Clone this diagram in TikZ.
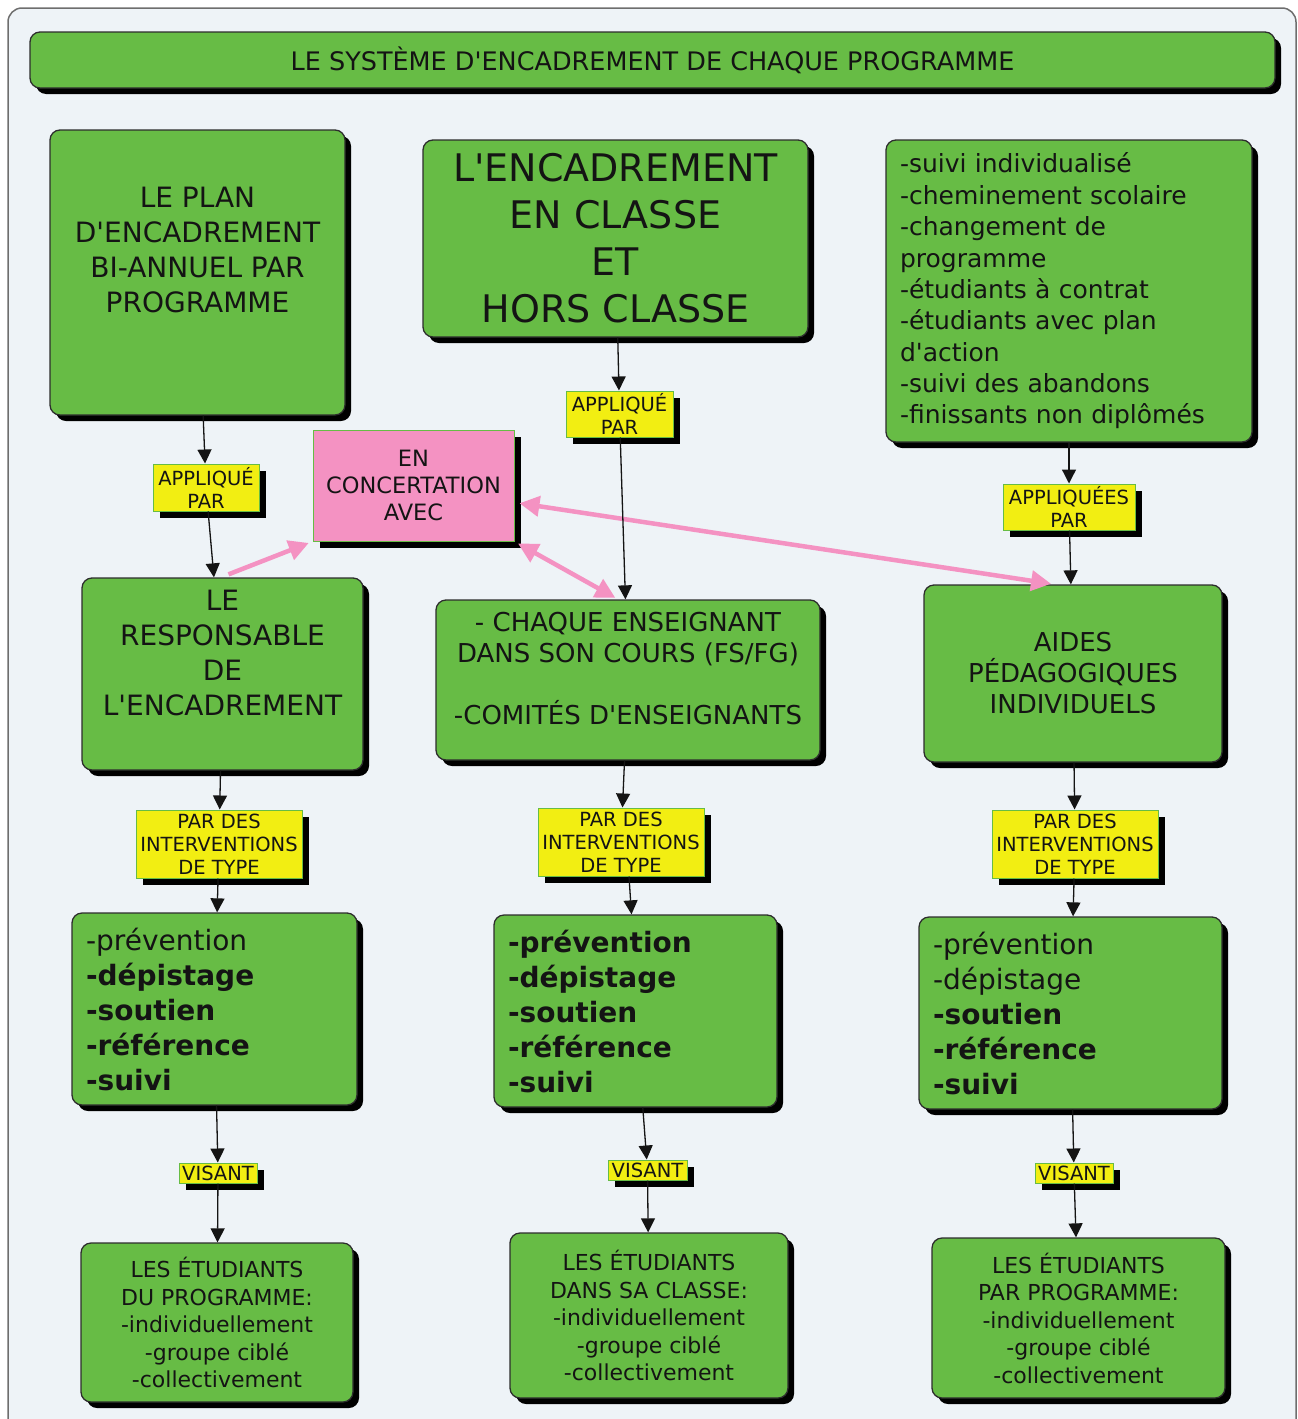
\documentclass[tikz,border=0pt]{standalone}
\usepackage{fontspec}
\setmainfont{DejaVu Sans}[Ligatures=TeXOff]
\usetikzlibrary{arrows.meta,shadows}
\definecolor{paneBlue}{RGB}{238,243,247}
\definecolor{frameGray}{RGB}{110,110,110}
\definecolor{mapGreen}{RGB}{103,188,69}
\definecolor{boxEdge}{RGB}{45,45,45}
\definecolor{tagYellow}{RGB}{242,238,18}
\definecolor{linkPink}{RGB}{244,146,194}
\definecolor{inkBlack}{RGB}{20,20,20}
\tikzset{
  greenbox/.style={draw=boxEdge, line width=1.3pt, rounded corners=10pt, fill=mapGreen, text=inkBlack, align=center, inner sep=0pt, drop shadow={shadow xshift=6pt, shadow yshift=-6pt, fill=black, opacity=1}},
  listbox/.style={greenbox, align=left, inner xsep=14pt},
  tag/.style={draw=mapGreen, line width=1pt, fill=tagYellow, text=inkBlack, align=center, inner sep=0pt, font=\fontsize{19.5}{23}\selectfont, drop shadow={shadow xshift=7pt, shadow yshift=-7pt, fill=black, opacity=1}},
  concertbox/.style={draw=mapGreen, line width=1pt, fill=linkPink, text=inkBlack, align=center, inner sep=0pt, font=\fontsize{22.5}{27}\selectfont, drop shadow={shadow xshift=7pt, shadow yshift=-7pt, fill=black, opacity=1}},
  arrow/.style={-{Triangle[length=14pt,width=14pt]}, line width=1.3pt, draw=inkBlack},
  pinkarrow/.style={-{Triangle[length=20pt,width=20pt]}, line width=4.5pt, draw=linkPink},
  pinkboth/.style={{Triangle[length=20pt,width=20pt]}-{Triangle[length=20pt,width=20pt]}, line width=4.5pt, draw=linkPink},
  titlefont/.style={font=\fontsize{25.5}{30}\selectfont},
  headfont/.style={font=\fontsize{28}{35}\selectfont, text=inkBlack, align=center, inner sep=0pt},
  bigfont/.style={font=\fontsize{38}{47}\selectfont},
  listfont/.style={font=\fontsize{25}{31.4}\selectfont},
  midfont/.style={font=\fontsize{26}{31}\selectfont, text=inkBlack, align=center, inner sep=0pt},
  typefont/.style={font=\fontsize{28}{35}\selectfont},
  pupilfont/.style={font=\fontsize{22}{27.5}\selectfont}
}
\begin{document}
\begin{tikzpicture}[x=1pt,y=-1pt]
  \useasboundingbox (0,0) rectangle (1298,1419);
  % background pane
  \draw[draw=frameGray, line width=1.5pt, fill=paneBlue, rounded corners=14pt] (8,8) rectangle (1296,1440);

  \node[greenbox, titlefont, minimum width=1245pt, minimum height=56pt] (title) at (652.5,60) {LE SYSTÈME D'ENCADREMENT DE CHAQUE PROGRAMME};

  % top row
  \node[greenbox, minimum width=295pt, minimum height=285pt] (plan) at (197.5,272.5) {};
  \node[headfont, anchor=north] (plantext) at ([yshift=-58pt]plan.north) {LE PLAN\\D'ENCADREMENT\\BI-ANNUEL PAR\\PROGRAMME};
  \node[greenbox, bigfont, minimum width=385pt, minimum height=197pt] (classe) at (615.5,238.5) {L'ENCADREMENT\\EN CLASSE\\ET\\HORS CLASSE};
  \node[listbox, listfont, text width=338pt, minimum height=302pt] (suivi) at (1069,291) {-suivi individualisé\\-cheminement scolaire\\-changement de\\programme\\-étudiants à contrat\\-étudiants avec plan\\d'action\\-suivi des abandons\\-finissants non diplômés};

  \node[concertbox, minimum width=201pt, minimum height=111pt] (concert) at (413.5,485.5) {EN\\CONCERTATION\\AVEC};
  \node[tag, minimum width=106pt, minimum height=47pt] (applA) at (206,487.5) {APPLIQUÉ\\PAR};
  \node[tag, minimum width=107pt, minimum height=46pt] (applB) at (619.5,414) {APPLIQUÉ\\PAR};
  \node[tag, minimum width=132pt, minimum height=46pt] (applC) at (1069,507) {APPLIQUÉES\\PAR};

  % second row
  \node[greenbox, minimum width=281pt, minimum height=192pt] (resp) at (222.5,674) {};
  \node[headfont, anchor=north] (resptext) at ([yshift=-13pt]resp.north) {LE\\RESPONSABLE\\DE\\L'ENCADREMENT};
  \node[greenbox, minimum width=384pt, minimum height=160pt] (prof) at (628,680) {};
  \node[midfont, anchor=north] (proftext) at ([yshift=-13pt]prof.north) {- CHAQUE ENSEIGNANT\\DANS SON COURS (FS/FG)\\[31pt]-COMITÉS D'ENSEIGNANTS};
  \node[greenbox, midfont, minimum width=298pt, minimum height=177pt] (aides) at (1073,673.5) {AIDES\\PÉDAGOGIQUES\\INDIVIDUELS};

  \node[tag, minimum width=166pt, minimum height=68pt] (typeA) at (219,844) {PAR DES\\INTERVENTIONS\\DE TYPE};
  \node[tag, minimum width=166pt, minimum height=68pt] (typeB) at (621,842) {PAR DES\\INTERVENTIONS\\DE TYPE};
  \node[tag, minimum width=166pt, minimum height=68pt] (typeC) at (1075,844) {PAR DES\\INTERVENTIONS\\DE TYPE};

  % third row
  \node[listbox, typefont, text width=257pt, minimum height=192pt] (actA) at (214.5,1009) {-prévention\\\textbf{-dépistage}\\\textbf{-soutien}\\\textbf{-référence}\\\textbf{-suivi}};
  \node[listbox, typefont, text width=255pt, minimum height=192pt] (actB) at (635.5,1011) {\textbf{-prévention}\\\textbf{-dépistage}\\\textbf{-soutien}\\\textbf{-référence}\\\textbf{-suivi}};
  \node[listbox, typefont, text width=275pt, minimum height=192pt] (actC) at (1070.5,1013) {-prévention\\-dépistage\\\textbf{-soutien}\\\textbf{-référence}\\\textbf{-suivi}};

  \node[tag, minimum width=78pt, minimum height=20pt] (visA) at (218,1173) {VISANT};
  \node[tag, minimum width=79pt, minimum height=20pt] (visB) at (647.5,1170) {VISANT};
  \node[tag, minimum width=78pt, minimum height=20pt] (visC) at (1074,1173) {VISANT};

  % bottom row
  \node[greenbox, pupilfont, minimum width=272pt, minimum height=159pt] (pupA) at (217,1322.5) {LES ÉTUDIANTS\\DU PROGRAMME:\\-individuellement\\-groupe ciblé\\-collectivement};
  \node[greenbox, pupilfont, minimum width=278pt, minimum height=165pt] (pupB) at (649,1315.5) {LES ÉTUDIANTS\\DANS SA CLASSE:\\-individuellement\\-groupe ciblé\\-collectivement};
  \node[greenbox, pupilfont, minimum width=293pt, minimum height=160pt] (pupC) at (1078.5,1318) {LES ÉTUDIANTS\\PAR PROGRAMME:\\-individuellement\\-groupe ciblé\\-collectivement};

  % concertation links
  \draw[pinkarrow, shorten >=4pt] ([xshift=6pt,yshift=3pt]resp.north) -- (concert.south west);
  \draw[pinkboth, shorten <=4pt, shorten >=3pt] (concert.south east) -- ([xshift=-10pt]prof.north);
  \draw[pinkboth, shorten <=5pt, shorten >=4pt] ([yshift=-17pt]concert.east) -- ([xshift=-18pt]aides.north);

  % flow
  \draw[arrow] (plan) -- (applA);
  \draw[arrow] (applA) -- (resp);
  \draw[arrow] (classe) -- (applB);
  \draw[arrow] (applB) -- (prof);
  \draw[arrow] (suivi) -- (applC);
  \draw[arrow] (applC) -- (aides);
  \draw[arrow] (resp) -- (typeA);
  \draw[arrow] (typeA) -- (actA);
  \draw[arrow] (prof) -- (typeB);
  \draw[arrow] ([xshift=8pt]typeB.south) -- ([xshift=-4pt]actB.north);
  \draw[arrow] (aides) -- (typeC);
  \draw[arrow] (typeC) -- (actC);
  \draw[arrow] (actA) -- (visA);
  \draw[arrow] (visA) -- (pupA);
  \draw[arrow] (actB) -- (visB);
  \draw[arrow] (visB) -- (pupB);
  \draw[arrow] (actC) -- (visC);
  \draw[arrow] (visC) -- (pupC);
\end{tikzpicture}
\end{document}
